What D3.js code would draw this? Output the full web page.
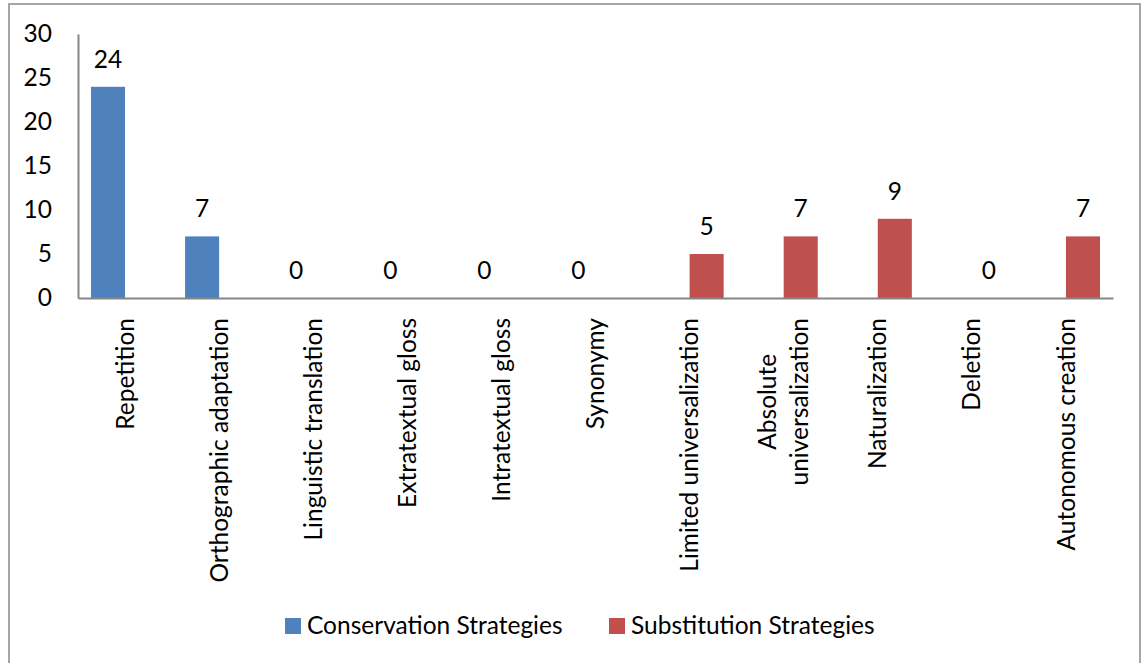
<!DOCTYPE html>
<html>
<head>
<meta charset="utf-8">
<script src="https://cdn.jsdelivr.net/npm/d3@7"></script>
<style>
  body { margin: 0; background: #fff; }
  text { font-family: Lato, "Open Sans", sans-serif; fill: #000; }
</style>
</head>
<body>
<svg id="chart" width="1144" height="663"></svg>
<script>
// Translation strategies: counts per strategy, split into two strategy groups
const categories = [
  "Repetition", "Orthographic adaptation", "Linguistic translation",
  "Extratextual gloss", "Intratextual gloss", "Synonymy",
  "Limited universalization", "Absolute\nuniversalization",
  "Naturalization", "Deletion", "Autonomous creation"
];
const seriesNames = ["Conservation Strategies", "Substitution Strategies"];
const conservation = [24, 7, 0, 0, 0, 0, null, null, null, null, null];
const substitution = [null, null, null, null, null, null, 5, 7, 9, 0, 7];
const yTicks = [0, 5, 10, 15, 20, 25, 30];
const seriesColors = ["#4F81BD", "#C0504D"];

const fontSize = 24.5;
const svg = d3.select("#chart");

// chart frame
svg.append("rect")
  .attr("x", 9).attr("y", 4)
  .attr("width", 1131).attr("height", 680)
  .attr("fill", "none").attr("stroke", "#A6A6A6").attr("stroke-width", 2);

const plot = { left: 78, right: 1113, top: 34, bottom: 298 };

const x0 = d3.scaleBand()
  .domain(categories)
  .range([plot.left, plot.right])
  .paddingInner(0.276)
  .paddingOuter(0.138);

const x1 = d3.scaleBand()
  .domain(seriesNames)
  .range([0, x0.bandwidth()]);

const y = d3.scaleLinear()
  .domain([0, 30])
  .range([plot.bottom, plot.top]);

// y axis
const yAxis = svg.append("g")
  .attr("transform", `translate(${plot.left},0)`)
  .call(d3.axisLeft(y).tickValues(yTicks).tickSize(0).tickPadding(26));
yAxis.select(".domain").attr("stroke", "#868686").attr("stroke-width", 2);
yAxis.selectAll("text")
  .style("font-family", "Lato, 'Open Sans', sans-serif")
  .style("font-size", fontSize + "px")
  .attr("fill", "#000");

// bars and value labels
const series = [conservation, substitution];
series.forEach((values, si) => {
  const rows = categories
    .map((c, i) => ({ cat: c, v: values[i] }))
    .filter(d => d.v !== null);
  const g = svg.append("g");
  g.selectAll("rect")
    .data(rows)
    .join("rect")
    .attr("x", d => x0(d.cat) + x1(seriesNames[si]))
    .attr("width", x1.bandwidth())
    .attr("y", d => y(d.v))
    .attr("height", d => y(0) - y(d.v))
    .attr("fill", seriesColors[si]);
  g.selectAll("text")
    .data(rows)
    .join("text")
    .attr("x", d => x0(d.cat) + x1(seriesNames[si]) + x1.bandwidth() / 2)
    .attr("y", d => y(d.v) - 19)
    .attr("text-anchor", "middle")
    .style("font-size", fontSize + "px")
    .text(d => d.v);
});

// x axis line with rotated category labels
const xAxis = svg.append("g")
  .attr("transform", `translate(0,${plot.bottom})`)
  .call(d3.axisBottom(x0).tickSize(0).tickFormat(""));
xAxis.select(".domain").attr("stroke", "#868686").attr("stroke-width", 2);

const labelTop = 20;   // gap between the axis and the start of the labels
const lineGap = 32;
xAxis.selectAll(".tick").each(function (cat) {
  const lines = cat.split("\n");
  const t = d3.select(this).append("text")
    .attr("transform", "rotate(-90)")
    .attr("text-anchor", "middle")
    .style("font-size", fontSize + "px");
  const spans = lines.map((ln, i) => t.append("tspan")
    .attr("y", (i - (lines.length - 1) / 2) * lineGap)
    .attr("dy", "0.35em")
    .text(ln));
  const maxLen = d3.max(spans, s => s.node().getComputedTextLength());
  spans.forEach(s => s.attr("x", -(labelTop + maxLen / 2)));
});

// legend
const legend = svg.append("g");
const legendX = [285, 609];
seriesNames.forEach((name, i) => {
  legend.append("rect")
    .attr("x", legendX[i]).attr("y", 618)
    .attr("width", 16).attr("height", 16)
    .attr("fill", seriesColors[i]);
  legend.append("text")
    .attr("x", legendX[i] + 22).attr("y", 634)
    .style("font-size", fontSize + "px")
    .text(name);
});
</script>
</body>
</html>
